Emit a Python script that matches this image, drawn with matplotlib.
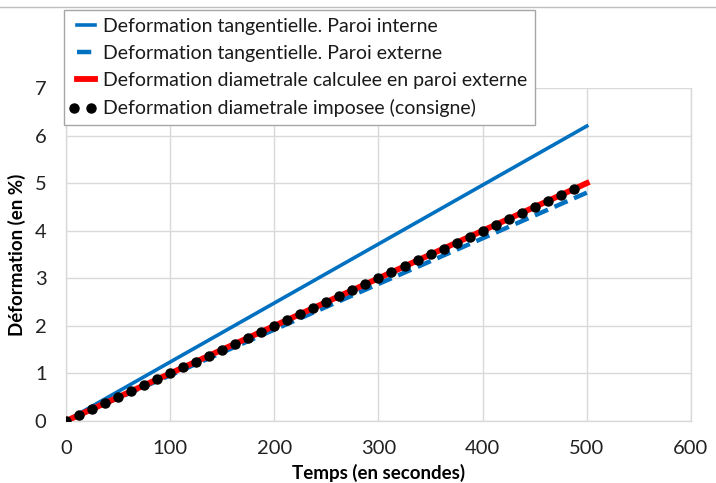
import matplotlib
matplotlib.use("Agg")
import matplotlib.pyplot as plt
import numpy as np
from matplotlib.legend_handler import HandlerLine2D

plt.rcParams['font.family'] = ['Lato', 'DejaVu Sans']

# Time (s) and strain (%) series
temps = [0, 100, 200, 300, 400, 500]
tang_interne = [0.0, 1.24, 2.48, 3.72, 4.96, 6.2]
tang_externe = [0.0, 0.96, 1.92, 2.88, 3.84, 4.8]
diam_calculee = [0.0, 1.0, 2.0, 3.0, 4.0, 5.0]

# Imposed strain set-point (sampled every 12.5 s)
temps_consigne = [0, 12.5, 25, 37.5, 50, 62.5, 75, 87.5, 100, 112.5, 125, 137.5,
                  150, 162.5, 175, 187.5, 200, 212.5, 225, 237.5, 250, 262.5,
                  275, 287.5, 300, 312.5, 325, 337.5, 350, 362.5, 375, 387.5,
                  400, 412.5, 425, 437.5, 450, 462.5, 475, 487.5]
diam_consigne = [0.0, 0.125, 0.25, 0.375, 0.5, 0.625, 0.75, 0.875, 1.0, 1.125,
                 1.25, 1.375, 1.5, 1.625, 1.75, 1.875, 2.0, 2.125, 2.25, 2.375,
                 2.5, 2.625, 2.75, 2.875, 3.0, 3.125, 3.25, 3.375, 3.5, 3.625,
                 3.75, 3.875, 4.0, 4.125, 4.25, 4.375, 4.5, 4.625, 4.75, 4.875]

labels = ["Deformation tangentielle. Paroi interne",
          "Deformation tangentielle. Paroi externe",
          "Deformation diametrale calculee en paroi externe",
          "Deformation diametrale imposee (consigne)"]

blue = "#0070c0"
red = "#ff0000"
grid_c = "#d9d9d9"


class TwoDotHandler(HandlerLine2D):
    """Legend handle showing two markers placed toward the left."""
    def get_xdata(self, legend, xdescent, ydescent, width, height, fontsize):
        xd = [-xdescent + 0.08 * width, -xdescent + 0.68 * width]
        return xd, xd


fig = plt.figure(figsize=(7.16, 4.83), dpi=100)
ax = fig.add_axes([0.0922, 0.1284, 0.8728, 0.6894])

l1, = ax.plot(temps, tang_interne, color=blue, lw=2.6, label=labels[0], zorder=3)
l2, = ax.plot(temps, tang_externe, color=blue, lw=3.2, ls=(0, (3.2, 1.6)),
              label=labels[1], zorder=3)
l3, = ax.plot(temps, diam_calculee, color=red, lw=4.2, label=labels[2], zorder=4)
l4, = ax.plot(temps_consigne, diam_consigne, ls='none', marker='o', ms=6.5,
              color='black', label=labels[3], zorder=5)

ax.set_xlim(0, 600)
ax.set_ylim(0, 7)
ax.set_xticks(np.arange(0, 601, 100))
ax.set_yticks(np.arange(0, 8, 1))
ax.grid(True, color=grid_c, lw=1)
ax.set_axisbelow(True)
for s in ax.spines.values():
    s.set_color(grid_c)
    s.set_linewidth(1)
ax.spines['top'].set_visible(False)
ax.tick_params(length=0, labelsize=14.5, colors='#222222')
ax.tick_params(axis='x', pad=14)
ax.tick_params(axis='y', pad=14)

ax.set_xlabel("Temps (en secondes)", fontsize=13.5, fontweight='bold', labelpad=5)
ax.set_ylabel("Déformation (en %)", fontsize=13.5, fontweight='bold', labelpad=6)

leg = fig.legend(handles=[l1, l2, l3, l4], loc='upper left',
                 bbox_to_anchor=(0.089, 0.979), fontsize=14, frameon=True,
                 fancybox=False, edgecolor='#a6a6a6', framealpha=1,
                 handlelength=1.5, handletextpad=0.1, labelspacing=0.52,
                 borderpad=0.4, numpoints=2, borderaxespad=0,
                 handler_map={l4: TwoDotHandler(numpoints=2)})
for t in leg.get_texts():
    t.set_color('#1a1a1a')
leg.get_frame().set_linewidth(1)
leg.set_zorder(10)

# Outer chart border line
fig.add_artist(plt.Line2D([0, 1], [0.985, 0.985], color='#bfbfbf', lw=1))

fig.savefig("out.png", dpi=100)
